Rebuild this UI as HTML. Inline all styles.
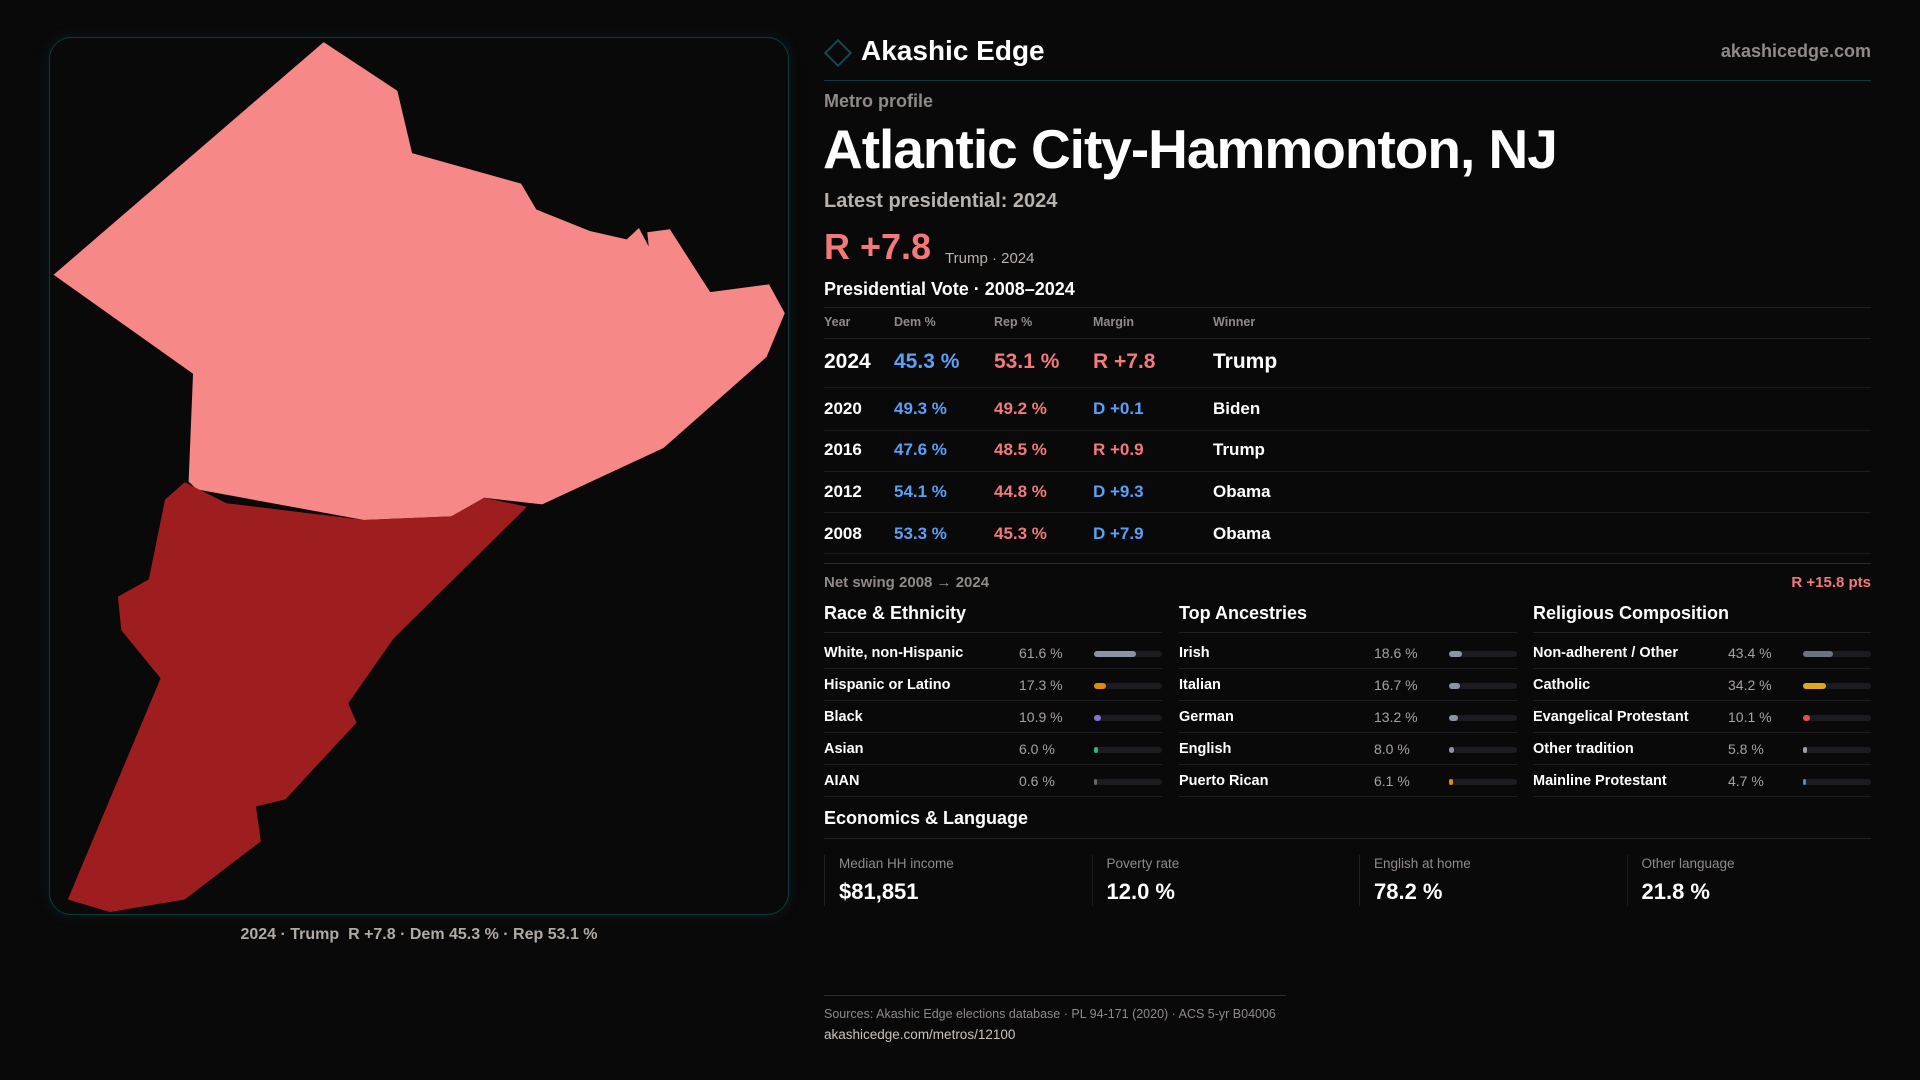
<!DOCTYPE html>
<html><head><meta charset="utf-8">
<style>
*{margin:0;padding:0;box-sizing:border-box}
body{width:1920px;height:1080px;background:#0a090a;font-family:"Liberation Sans",sans-serif;color:#fff;position:relative;overflow:hidden}
.a{position:absolute;white-space:nowrap}
.line{position:absolute;height:1px;background:#222}
.g{color:#8f8a88}
.blue{color:#5aa0f5}.red{color:#f47a7a}
.track{position:absolute;height:6px;border-radius:3px;background:#1c1c20}
.fill{position:absolute;left:0;top:0;height:6px;border-radius:3px}
</style></head><body>
<div class="a" style="left:49px;top:37px;width:740px;height:878px;border:1px solid #0f3a42;border-radius:22px;box-shadow:0 0 12px rgba(0,80,100,0.25)"></div>
<svg class="a" style="left:30px;top:20px" width="770" height="940" viewBox="0 0 1568 1568" preserveAspectRatio="none">
<polygon fill="#f68887" points="598,37 748,118 778,222 1000,273 1031,316 1140,352 1215,366 1240,347 1260,378 1257,354 1303,349 1385,454 1505,441 1537,489 1500,562 1290,714 1043,808 925,797 858,828 680,834 340,783 323,770 332,590 48,425"/>
<polygon fill="#9e1e20" points="315,771 400,806 680,834 858,828 925,797 1012,812 740,1032 648,1140 665,1172 520,1300 460,1312 470,1370 315,1467 163,1488 77,1467 266,1098 186,1018 179,962 242,933 275,800"/>
</svg>
<div class="a" style="left:49px;width:740px;text-align:center;top:926px;font-size:16px;font-weight:bold;color:#b0aaa5">2024 · Trump&nbsp; R +7.8 · Dem 45.3 % · Rep 53.1 %</div>

<div class="a" style="left:828px;top:43px;width:20px;height:20px;border:2px solid #0e4a55;transform:rotate(45deg)"></div>
<div class="a" style="left:861px;top:35px;font-size:28px;font-weight:bold">Akashic Edge</div>
<div class="a g" style="right:49px;top:41px;font-size:18px;font-weight:bold">akashicedge.com</div>
<div class="line" style="left:824px;top:80px;width:1047px;background:#0f3a42"></div>
<div class="a g" style="left:824px;top:91px;font-size:18px;font-weight:bold">Metro profile</div>
<div class="a" style="left:823px;top:117px;font-size:55px;font-weight:bold;letter-spacing:-1px">Atlantic City-Hammonton, NJ</div>
<div class="a" style="left:824px;top:190px;font-size:20px;font-weight:bold;color:#b8b2ad">Latest presidential: 2024</div>
<div class="a red" style="left:824px;top:226px;font-size:36px;font-weight:bold">R +7.8</div>
<div class="a" style="left:945px;top:250px;font-size:15px;color:#b8b2ad">Trump · 2024</div>
<div class="a" style="left:824px;top:279px;font-size:18px;font-weight:bold">Presidential Vote · 2008–2024</div>
<div class="line" style="left:824px;top:307px;width:1047px"></div>
<div id="vt"></div>
<div class="a g" style="left:824px;top:574px;font-size:15px;font-weight:bold">Net swing 2008 → 2024</div>
<div class="a red" style="right:49px;top:574px;font-size:15px;font-weight:bold">R +15.8 pts</div>
<div id="cols"></div>
<div class="a" style="left:824px;top:808px;font-size:18px;font-weight:bold">Economics &amp; Language</div>
<div class="line" style="left:824px;top:838px;width:1047px"></div>
<div id="cards"></div>
<div class="line" style="left:824px;top:995px;width:462px;background:#0f3a42"></div>
<div class="a g" style="left:824px;top:1007px;font-size:12.5px">Sources: Akashic Edge elections database · PL 94-171 (2020) · ACS 5-yr B04006</div>
<div class="a" style="left:824px;top:1027px;font-size:13.5px;color:#c8c2bd">akashicedge.com/metros/12100</div>
<script>
const years=['2024','2020','2016','2012','2008'];
const dem=[45.3,49.3,47.6,54.1,53.3];
const rep=[53.1,49.2,48.5,44.8,45.3];
const margins=['R +7.8','D +0.1','R +0.9','D +9.3','D +7.9'];
const winners=['Trump','Biden','Trump','Obama','Obama'];
const raceLabels=['White, non-Hispanic','Hispanic or Latino','Black','Asian','AIAN'];
const raceVals=[61.6,17.3,10.9,6.0,0.6];
const ancLabels=['Irish','Italian','German','English','Puerto Rican'];
const ancVals=[18.6,16.7,13.2,8.0,6.1];
const relLabels=['Non-adherent / Other','Catholic','Evangelical Protestant','Other tradition','Mainline Protestant'];
const relVals=[43.4,34.2,10.1,5.8,4.7];
const econLabels=['Median HH income','Poverty rate','English at home','Other language'];
const econVals=['$81,851','12.0 %','78.2 %','21.8 %'];

function mk(parent,html,style,name,inter){const d=document.createElement('div');d.className='a';d.innerHTML=html;d.style.cssText=style;


parent.appendChild(d);return d;}
const vt=document.getElementById('vt');
const colX=[824,894,994,1093,1213];
['Year','Dem %','Rep %','Margin','Winner'].forEach((h,i)=>mk(vt,h,`left:${colX[i]}px;top:315px;font-size:12.5px;font-weight:bold;color:#8f8a88`,'column-header',false));
const ln=(p,x,y,w,c)=>{const d=document.createElement('div');d.className='line';d.style.cssText=`left:${x}px;top:${y}px;width:${w}px;`+(c?'background:'+c:'');p.appendChild(d);};
ln(vt,824,338,1047);
const rowY=[350,399,440,482,524];
const lineY=[387,430,471,512,553];
years.forEach((y,i)=>{
  const fs=i===0?21:17;
  const red=margins[i][0]==='R';
  mk(vt,y,`left:${colX[0]}px;top:${rowY[i]}px;font-size:${fs}px;font-weight:bold`,'row-year',false);
  mk(vt,dem[i].toFixed(1)+' %',`left:${colX[1]}px;top:${rowY[i]}px;font-size:${fs}px;font-weight:bold;color:#5aa0f5`,'dem-pct',false);
  mk(vt,rep[i].toFixed(1)+' %',`left:${colX[2]}px;top:${rowY[i]}px;font-size:${fs}px;font-weight:bold;color:#f47a7a`,'rep-pct',false);
  mk(vt,margins[i],`left:${colX[3]}px;top:${rowY[i]}px;font-size:${fs}px;font-weight:bold;color:${red?'#f47a7a':'#5aa0f5'}`,'margin',false);
  mk(vt,winners[i],`left:${colX[4]}px;top:${rowY[i]}px;font-size:${fs}px;font-weight:bold`,'winner',false);
  ln(vt,824,lineY[i],1047,'#1c1c1e');
});
ln(vt,824,563,1047,'#2a2a2c');

const cols=document.getElementById('cols');
const groups=[['Race & Ethnicity',raceLabels,raceVals,['#8a94a6','#e08a12','#8b6fd6','#2fb37a','#666']],
 ['Top Ancestries',ancLabels,ancVals,['#8a94a6','#8a94a6','#8a94a6','#8a94a6','#e08a12']],
 ['Religious Composition',relLabels,relVals,['#6b7280','#e0a820','#e05050','#9aa0aa','#4a8ae0']]];
const gx=[824,1179,1533];
groups.forEach((g,gi)=>{
  const x=gx[gi];
  mk(cols,g[0].replace('&','&amp;'),`left:${x}px;top:603px;font-size:18px;font-weight:bold`,'section-title',false);
  ln(cols,x,632,338,'#222');
  g[1].forEach((lab,i)=>{
    const y=645+i*32;
    mk(cols,lab,`left:${x}px;top:${y}px;font-size:14.5px;font-weight:bold`,'row-label',false);
    mk(cols,g[2][i].toFixed(1)+' %',`left:${x+195}px;top:${y}px;font-size:14px;color:#a8a29d`,'row-value',false);
    const t=document.createElement('div');t.className='track';t.style.cssText=`left:${x+270}px;top:${y+6}px;width:68px`;
    
    
    const f=document.createElement('div');f.className='fill';f.style.cssText=`width:${Math.max(3,68*g[2][i]/100)}px;background:${g[3][i]}`;
    
    
    t.appendChild(f);cols.appendChild(t);
    ln(cols,x,y+23,338,'#1e1e20');
  });
});
const cards=document.getElementById('cards');
econLabels.forEach((l,i)=>{
  const x=824+i*267.5;
  const c=document.createElement('div');c.className='a';c.style.cssText=`left:${x}px;top:855px;width:1px;height:51px;background:#1e1e20`;cards.appendChild(c);
  mk(cards,l,`left:${x+15}px;top:856px;font-size:13.5px;color:#8f8a88`,'stat-label',false);
  mk(cards,econVals[i],`left:${x+15}px;top:879px;font-size:22px;font-weight:bold`,'stat-value',false);
});
</script>
</body></html>
